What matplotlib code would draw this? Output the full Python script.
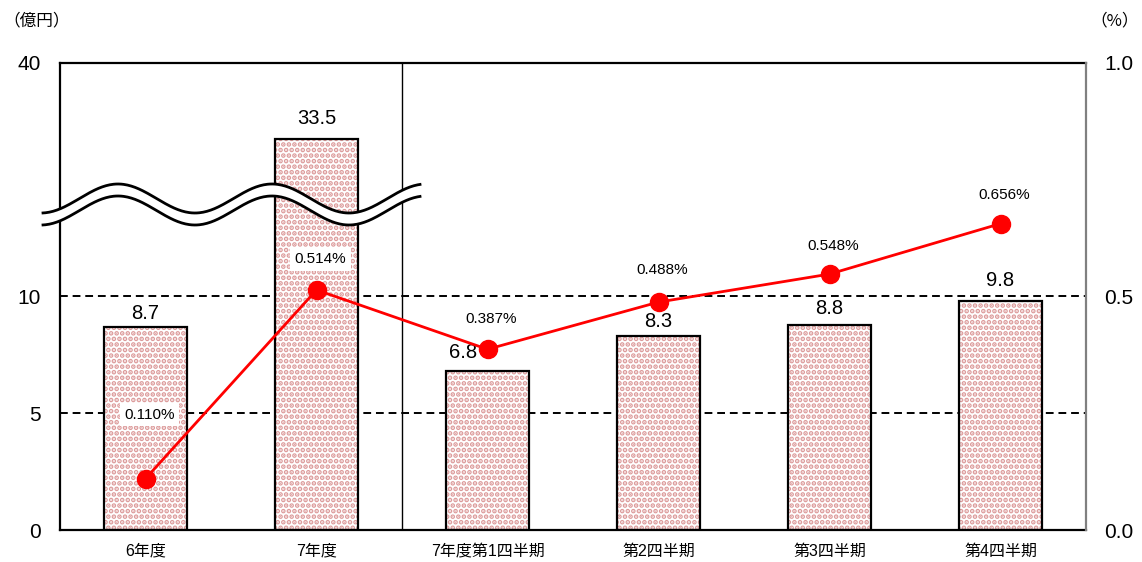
import numpy as np
import matplotlib
matplotlib.use("Agg")
import matplotlib.pyplot as plt
from matplotlib.patches import Polygon

plt.rcParams['font.family'] = ['Liberation Sans', 'Noto Sans CJK JP', 'DejaVu Sans']
plt.rcParams['hatch.linewidth'] = 2.4

# ---- data ----
categories = ['6年度', '7年度', '7年度第1四半期', '第2四半期', '第3四半期', '第4四半期']
amounts = [8.7, 33.5, 6.8, 8.3, 8.8, 9.8]          # 億円
ratios = [0.110, 0.514, 0.387, 0.488, 0.548, 0.656]  # %
left_ticks = [0, 5, 10, 40]
right_ticks = [0.0, 0.5, 1.0]

# broken-axis mapping (value -> drawn height)
brk_in = [0, 10, 33.5, 40]
brk_out = [0, 10, 16.75, 20]
def fwd(y):
    return np.interp(y, brk_in, brk_out)
def inv(y):
    return np.interp(y, brk_out, brk_in)

W, H = 1142, 562
fig = plt.figure(figsize=(W / 100, H / 100), dpi=100)
L, R, T, B = 60, 1086, 63, 530
ax = fig.add_axes([L / W, 1 - B / H, (R - L) / W, (B - T) / H])
ax.set_yscale('function', functions=(fwd, inv))

x = np.arange(len(categories))
bw = 0.48
ax.bar(x, amounts, width=bw, color='white', edgecolor='#dc9a9a', hatch='...', lw=0, zorder=2)
ax.bar(x, amounts, width=bw, fill=False, edgecolor='black', lw=1.6, zorder=3)

ax.set_xlim(-0.5, len(categories) - 0.5)
ax.set_ylim(0, 40)
ax.set_yticks(left_ticks)
ax.set_yticklabels([str(t) for t in left_ticks], fontsize=15)
ax.set_xticks(x)
ax.set_xticklabels(categories, fontsize=11.5)
ax.tick_params(axis='y', length=0, pad=14)
ax.tick_params(axis='x', length=0, pad=10)

for yv in [5, 10]:
    ax.axhline(yv, color='black', lw=1.4, dashes=(4, 2.5), zorder=1)
ax.axvline(1.5, color='black', lw=1.0, zorder=1)

for s in ['left', 'bottom', 'top']:
    ax.spines[s].set_linewidth(1.6)
    ax.spines[s].set_color('black')
ax.spines['right'].set_visible(False)

# bar value labels (pixel offsets: x, y)
lab_off = [(0, 4), (0, 11), (-24, 19), (0, 5), (0, 7), (0, 11)]
for i, v in enumerate(amounts):
    ox, oy = lab_off[i]
    if i == 2:
        ax.annotate(f'{v}', (x[i], v), xytext=(ox, oy), textcoords='offset pixels',
                    ha='center', va='center', fontsize=14.5, zorder=5)
    else:
        ax.annotate(f'{v}', (x[i], v), xytext=(ox, oy), textcoords='offset pixels',
                    ha='center', va='bottom', fontsize=14.5, zorder=5)

# right axis
ax2 = ax.twinx()
ax2.set_ylim(0, 1.0)
ax2.set_yticks(right_ticks)
ax2.set_yticklabels([f'{t:.1f}' for t in right_ticks], fontsize=15)
ax2.tick_params(axis='y', length=0, pad=13)
for s in ['left', 'bottom', 'top']:
    ax2.spines[s].set_visible(False)
ax2.spines['right'].set_color('#808080')
ax2.spines['right'].set_linewidth(1.6)

ax2.plot(x, ratios, color='red', lw=2, marker='o', markersize=13, zorder=4)
pct_dy = [64, 31, 30, 32, 28, 29]
for i, r in enumerate(ratios):
    ax2.annotate(f'{r:.3f}%', (x[i], r), xytext=(4, pct_dy[i]), textcoords='offset pixels',
                 ha='center', va='center', fontsize=11, zorder=6,
                 bbox=dict(boxstyle='square,pad=0.3', fc='white', ec='none'))

# break symbol (wavy double line)
xp = np.linspace(43, 420, 300)
y1 = 198.5 - 14.5 * np.cos(2 * np.pi * (xp - 118) / 154)
y2 = y1 + 12
def to_ax(px, py):
    return (px - L) / (R - L), (B - py) / (B - T)
ax1x, ax1y = to_ax(xp, y1)
ax2x, ax2y = to_ax(xp, y2)
poly = np.vstack([np.column_stack([ax1x, ax1y]), np.column_stack([ax2x[::-1], ax2y[::-1]])])
ax2.add_patch(Polygon(poly, closed=True, fc='white', ec='none', transform=ax.transAxes,
                      clip_on=False, zorder=7))
ax2.plot(ax1x, ax1y, color='black', lw=2, transform=ax.transAxes, clip_on=False, zorder=8)
ax2.plot(ax2x, ax2y, color='black', lw=2, transform=ax.transAxes, clip_on=False, zorder=8)

fig.text(3 / W, 1 - 21 / H, '（億円）', fontsize=12, ha='left', va='center',
         family=['Noto Sans CJK JP'])
fig.text(1090 / W, 1 - 21 / H, '（%）', fontsize=12, ha='left', va='center',
         family=['Noto Sans CJK JP'])

fig.savefig('out.png', dpi=100)
